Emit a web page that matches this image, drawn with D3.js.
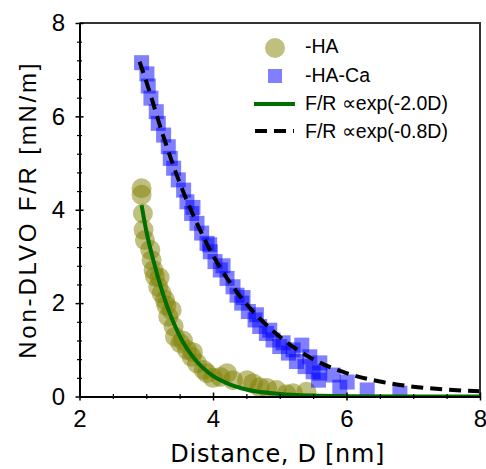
<!DOCTYPE html>
<html>
<head>
<meta charset="UTF-8">
<title>Non-DLVO force</title>
<script src="https://d3js.org/d3.v7.min.js"></script>
<style>
    body { margin: 0; background: #fff; }
    svg { display: block; }
</style>
</head>
<body>
<svg id="chart" width="486" height="469"></svg>
<script>
// -HA (olive circles)
var haD = [2.93, 2.93, 2.95, 2.96, 2.98, 3.06, 3.08, 3.11, 3.13, 3.18, 3.20, 3.23, 3.28, 3.30, 3.33, 3.38,
           3.41, 3.43, 3.51, 3.55, 3.61, 3.68, 3.70, 3.76, 3.86, 3.91, 4.00, 4.11, 4.21, 4.30, 4.51, 4.60,
           4.70, 4.81, 4.95, 5.10, 5.20, 5.40];
var haF = [4.46, 4.32, 3.92, 3.57, 3.35, 3.14, 2.92, 2.71, 2.57, 2.35, 2.55, 2.21, 2.07, 1.95, 1.71, 1.85,
           1.50, 1.28, 1.14, 1.20, 1.00, 0.85, 0.95, 0.71, 0.57, 0.50, 0.40, 0.42, 0.50, 0.35, 0.35, 0.28,
           0.20, 0.18, 0.14, 0.05, 0.07, 0.10];

// -HA-Ca (blue squares)
var caD = [2.93, 3.01, 3.03, 3.07, 3.15, 3.18, 3.26, 3.33, 3.36, 3.41, 3.48, 3.56, 3.61, 3.68, 3.70, 3.76,
           3.83, 3.91, 3.95, 3.96, 4.03, 4.11, 4.15, 4.21, 4.30, 4.36, 4.43, 4.45, 4.53, 4.63, 4.65, 4.70,
           4.80, 4.85, 4.90, 5.00, 5.05, 5.13, 5.20, 5.25, 5.33, 5.38, 5.45, 5.50, 5.58, 5.60, 5.60, 5.80,
           5.90, 6.01, 6.31, 6.80];
var caF = [7.15, 6.91, 6.65, 6.39, 6.10, 5.85, 5.60, 5.35, 5.10, 4.89, 4.64, 4.42, 4.17, 3.92, 4.05, 3.71,
           3.50, 3.28, 3.25, 3.10, 2.89, 2.71, 2.80, 2.53, 2.35, 2.17, 2.00, 2.12, 1.82, 1.64, 1.75, 1.50,
           1.35, 1.42, 1.21, 1.07, 1.15, 0.93, 1.00, 0.75, 1.10, 0.64, 0.85, 0.53, 0.35, 0.72, 0.50, 0.46,
           0.20, 0.31, 0.14, 0.07];

// fit lines
var fitHaD = [2.93, 3.0, 3.1, 3.25, 3.5, 3.75, 4.0, 4.25, 4.5, 5.0, 5.5, 6.0, 7.0, 8.0];
var fitHaF = [4.1, 3.55, 2.95, 2.2, 1.3, 0.76, 0.44, 0.26, 0.15, 0.055, 0.02, 0.008, 0.001, 0];
var fitCaD = [2.9, 3.0, 3.25, 3.5, 3.75, 4.0, 4.25, 4.5, 4.75, 5.0, 5.5, 6.0, 6.5, 7.0, 7.5, 8.0];
var fitCaF = [7.17, 6.75, 5.6, 4.58, 3.74, 3.02, 2.45, 1.98, 1.6, 1.28, 0.80, 0.50, 0.32, 0.21, 0.15, 0.11];

var xMajor = [2, 4, 6, 8];
var xMinor = [2.5, 3, 3.5, 4.5, 5, 5.5, 6.5, 7, 7.5];
var yMajor = [0, 2, 4, 6, 8];
var yMinor = [0.4, 0.8, 1.2, 1.6, 2.4, 2.8, 3.2, 3.6, 4.4, 4.8, 5.2, 5.6, 6.4, 6.8, 7.2, 7.6];

var legendLabels = ["-HA", "-HA-Ca", "F/R \u221dexp(-2.0D)", "F/R \u221dexp(-0.8D)"];

var svg = d3.select("#chart");
var pLeft = 79.5, pRight = 480, pTop = 23, pBottom = 396.5;

var x = d3.scaleLinear().domain([2, 8]).range([pLeft, pRight]);
var y = d3.scaleLinear().domain([0, 8]).range([pBottom, pTop]);

svg.append("clipPath").attr("id", "clip")
    .append("rect")
    .attr("x", pLeft).attr("y", pTop)
    .attr("width", pRight - pLeft).attr("height", pBottom - pTop);

var plot = svg.append("g").attr("clip-path", "url(#clip)");

// circles
plot.append("g").selectAll("circle")
    .data(haD)
    .enter().append("circle")
    .attr("cx", function (d) { return x(d); })
    .attr("cy", function (d, i) { return y(haF[i]); })
    .attr("r", 10)
    .style("fill", "#808000")
    .style("fill-opacity", 0.5);

// squares
var sq = 15;
plot.append("g").selectAll("rect")
    .data(caD)
    .enter().append("rect")
    .attr("x", function (d) { return x(d) - sq / 2; })
    .attr("y", function (d, i) { return y(caF[i]) - sq / 2; })
    .attr("width", sq)
    .attr("height", sq)
    .style("fill", "#0000ff")
    .style("fill-opacity", 0.5);

var line = d3.line()
    .x(function (d) { return x(d[0]); })
    .y(function (d) { return y(d[1]); })
    .curve(d3.curveMonotoneX);

plot.append("path")
    .datum(fitHaD.map(function (d, i) { return [d, fitHaF[i]]; }))
    .attr("d", line)
    .style("fill", "none")
    .style("stroke", "#006e00")
    .style("stroke-width", 4);

plot.append("path")
    .datum(fitCaD.map(function (d, i) { return [d, fitCaF[i]]; }))
    .attr("d", line)
    .style("fill", "none")
    .style("stroke", "#000")
    .style("stroke-width", 4)
    .style("stroke-dasharray", "12,7");

// frame top / right
svg.append("path")
    .attr("d", "M" + pLeft + "," + pTop + "H" + pRight + "V" + pBottom)
    .style("fill", "none")
    .style("stroke", "#333")
    .style("stroke-width", 2);

// x axis
var xAxis = svg.append("g").attr("transform", "translate(0," + pBottom + ")")
    .call(d3.axisBottom(x).tickValues(xMajor).tickSizeOuter(0).tickPadding(7.5)
        .tickFormat(d3.format("d")));
xAxis.selectAll(".tick line").attr("y1", -4).attr("y2", 4).style("stroke-width", 1.5);
xAxis.select(".domain").style("stroke-width", 2);
xAxis.selectAll("text").style("font-family", "Liberation Sans, Arial, sans-serif")
    .style("font-size", "24px").attr("fill", "#000");

var xAxisMinor = svg.append("g").attr("transform", "translate(0," + pBottom + ")")
    .call(d3.axisBottom(x).tickValues(xMinor).tickSizeOuter(0).tickFormat(""));
xAxisMinor.select(".domain").remove();
xAxisMinor.selectAll(".tick line").attr("y1", -2.5).attr("y2", 2.5).style("stroke-width", 1.2);

// y axis
var yAxis = svg.append("g").attr("transform", "translate(" + pLeft + ",0)")
    .call(d3.axisLeft(y).tickValues(yMajor).tickSizeOuter(0).tickPadding(8.5)
        .tickFormat(d3.format("d")));
yAxis.selectAll(".tick line").attr("x1", -4).attr("x2", 4).style("stroke-width", 1.5);
yAxis.select(".domain").style("stroke-width", 2);
yAxis.selectAll("text").style("font-family", "Liberation Sans, Arial, sans-serif")
    .style("font-size", "24px").attr("fill", "#000");

var yAxisMinor = svg.append("g").attr("transform", "translate(" + pLeft + ",0)")
    .call(d3.axisLeft(y).tickValues(yMinor).tickSizeOuter(0).tickFormat(""));
yAxisMinor.select(".domain").remove();
yAxisMinor.selectAll(".tick line").attr("x1", -2.5).attr("x2", 2.5).style("stroke-width", 1.2);

// axis titles
svg.append("text")
    .attr("x", (pLeft + pRight) / 2 - 2)
    .attr("y", 462)
    .attr("text-anchor", "middle")
    .style("font-family", "DejaVu Sans, Verdana, sans-serif")
    .style("font-size", "24px")
    .style("letter-spacing", "0.7px")
    .text("Distance, D [nm]");

svg.append("text")
    .attr("transform", "translate(36," + (pTop + pBottom) / 2 + ") rotate(-90)")
    .attr("text-anchor", "middle")
    .style("font-family", "Liberation Sans, Arial, sans-serif")
    .style("font-size", "24px")
    .style("letter-spacing", "2.8px")
    .text("Non-DLVO F/R [mN/m]");

// legend
var leg = svg.append("g");
leg.append("circle").attr("cx", 275).attr("cy", 48).attr("r", 10)
    .style("fill", "#808000").style("fill-opacity", 0.5);
leg.append("rect").attr("x", 268).attr("y", 69).attr("width", 14).attr("height", 14)
    .style("fill", "#0000ff").style("fill-opacity", 0.5);
leg.append("line").attr("x1", 254).attr("x2", 295).attr("y1", 104).attr("y2", 104)
    .style("stroke", "#006e00").style("stroke-width", 4);
leg.append("line").attr("x1", 255).attr("x2", 294).attr("y1", 131).attr("y2", 131)
    .style("stroke", "#000").style("stroke-width", 4).style("stroke-dasharray", "12,7");

leg.selectAll("text.lab")
    .data(legendLabels)
    .enter().append("text")
    .attr("class", "lab")
    .attr("x", 305)
    .attr("y", function (d, i) { return [53, 82, 110, 138][i]; })
    .style("font-family", "Liberation Sans, Arial, sans-serif")
    .style("font-size", "19.5px")
    .text(function (d) { return d; });
</script>
</body>
</html>
